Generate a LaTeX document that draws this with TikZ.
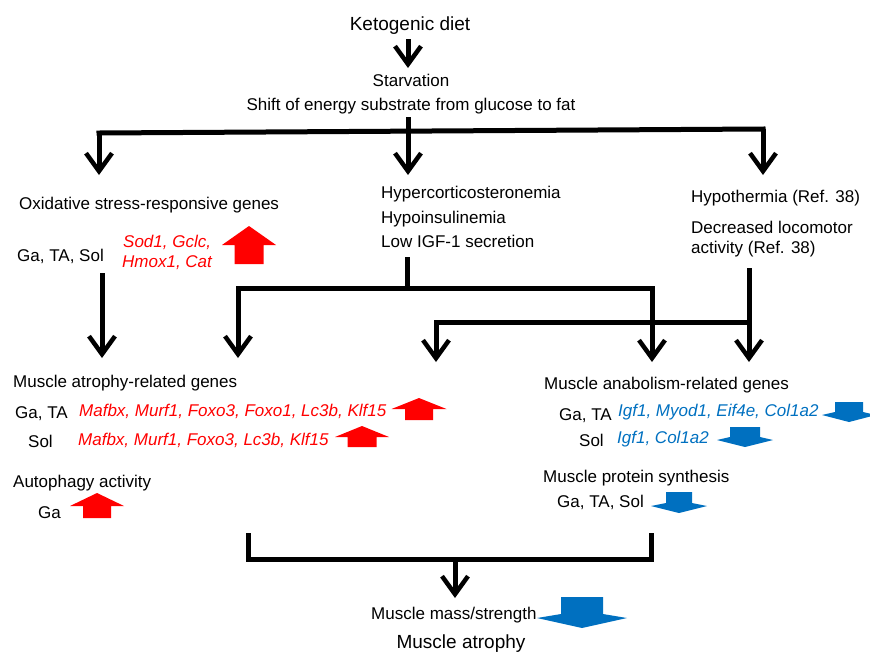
\documentclass[tikz,border=0pt]{standalone}
\usepackage{fontspec}
\setmainfont{Liberation Sans}
\usetikzlibrary{arrows.meta}
\definecolor{mred}{HTML}{FF0000}
\definecolor{mblue}{HTML}{0070C0}
% block arrow: color, cx, tip y, wing-tip y, wing y, end y, half wing, half shaft
\newcommand\blockarr[8]{%
  \fill[#1] (#2,#3) -- (#2+#7,#4) -- (#2+#8,#5) -- (#2+#8,#6) -- (#2-#8,#6)
    -- (#2-#8,#5) -- (#2-#7,#4) -- cycle;}
\tikzset{
  txt/.style={anchor=base west, inner sep=0pt, font=\fontsize{17}{20}\selectfont},
  ctxt/.style={anchor=base, inner sep=0pt, font=\fontsize{17}{20}\selectfont},
  big/.style={anchor=base, inner sep=0pt, font=\fontsize{19}{22}\selectfont},
  redg/.style={txt, text=mred, font=\fontsize{17}{20}\selectfont\itshape},
  blueg/.style={txt, text=mblue, font=\fontsize{17}{20}\selectfont\itshape},
  bar/.style={line width=5pt, line cap=rect},
  flow/.style={line width=5pt, -{Straight Barb[length=18pt,width=26pt,line width=4.5pt]}},
}
\begin{document}
\begin{tikzpicture}[x=1pt,y=-1pt]
\useasboundingbox (0,0) rectangle (870,654);
% texts
\node[big] (keto) at (410,30) {Ketogenic diet};
\node[ctxt] (starv) at (411,86) {Starvation};
\node[ctxt] (shift) at (411,110) {Shift of energy substrate from glucose to fat};
\node[txt] (oxi) at (19,209) {Oxidative stress-responsive genes};
\node[txt] (oxiga) at (17,261) {Ga, TA, Sol};
\node[redg] (sod) at (123,247) {Sod1, Gclc,};
\node[redg] (hmox) at (122,267) {Hmox1, Cat};
\node[txt] (hyper) at (381,198) {Hypercorticosteronemia};
\node[txt] (hypoi) at (381,223) {Hypoinsulinemia};
\node[txt] (igf) at (381,247) {Low IGF-1 secretion};
\node[txt] (hypot) at (691,202) {Hypothermia (Ref. 38)};
\node[txt] (decr) at (691,233) {Decreased locomotor};
\node[txt] (activ) at (691,253) {activity (Ref. 38)};
\node[txt] (atro) at (13,387) {Muscle atrophy-related genes};
\node[txt] (atga) at (15,418) {Ga, TA};
\node[redg] (atgag) at (79,416) {Mafbx, Murf1, Foxo3, Foxo1, Lc3b, Klf15};
\node[txt] (atsol) at (28,447) {Sol};
\node[redg] (atsolg) at (78,445) {Mafbx, Murf1, Foxo3, Lc3b, Klf15};
\node[txt] (auto) at (13,487) {Autophagy activity};
\node[txt] (autoga) at (38,518) {Ga};
\node[txt] (ana) at (544,389) {Muscle anabolism-related genes};
\node[txt] (anaga) at (559,420) {Ga, TA};
\node[blueg] (anagag) at (618,416) {Igf1, Myod1, Eif4e, Col1a2};
\node[txt] (anasol) at (579,446) {Sol};
\node[blueg] (anasolg) at (617,443) {Igf1, Col1a2};
\node[txt] (prot) at (543,482) {Muscle protein synthesis};
\node[txt] (protga) at (557,507) {Ga, TA, Sol};
\node[txt] (mass) at (371,619) {Muscle mass/strength};
\node[big] (atrophy) at (461,648) {Muscle atrophy};
% block arrows
\blockarr{mred}{249}{226}{245}{245}{264}{27}{14.5}
\blockarr{mred}{419}{398}{409}{409}{420}{27.5}{14}
\blockarr{mred}{362}{426}{437}{437}{447}{27}{14.5}
\blockarr{mred}{97}{493}{506}{506}{518}{27}{14}
\blockarr{mblue}{849}{422}{415}{412}{402}{27}{14}
\blockarr{mblue}{745}{447}{440}{437}{427}{28}{15}
\blockarr{mblue}{679}{513}{506}{503}{492}{28}{13}
\blockarr{mblue}{582}{628}{618}{614}{597}{45}{21}
% connectors
\coordinate (k1) at (408,39);
\coordinate (k2) at (408,68);
\draw[flow] (k1) -- (k2);
\coordinate (s1) at (408,117);
\coordinate (jl) at (99,133);
\coordinate (jr) at (763,129);
\coordinate (el) at (99,175);
\coordinate (ec) at (408,175);
\coordinate (er) at (763,175);
\draw[bar] (jl) -- (jr);
\draw[flow] (s1) -- (ec);
\draw[flow] (jl) -- (el);
\draw[flow] (jr) -- (er);
\coordinate (o1) at (102,273);
\coordinate (o2) at (102,358);
\draw[flow] (o1) -- (o2);
\coordinate (g1) at (407,259);
\coordinate (g2) at (407,288);
\coordinate (gl) at (238,288);
\coordinate (gr) at (652,288);
\coordinate (gle) at (238,358);
\coordinate (gre) at (652,362);
\draw[bar] (g1) -- (g2);
\draw[bar] (gl) -- (gr);
\draw[flow] (gl) -- (gle);
\draw[flow] (gr) -- (gre);
\coordinate (h1) at (749,268);
\coordinate (hl) at (436,322);
\coordinate (hr) at (749,322);
\coordinate (he) at (749,362);
\coordinate (hle) at (436,362);
\draw[bar] (hl) -- (hr);
\draw[flow] (h1) -- (he);
\draw[flow] (hl) -- (hle);
\coordinate (b1) at (248,533);
\coordinate (b2) at (248,559);
\coordinate (b3) at (651,559);
\coordinate (b4) at (651,533);
\coordinate (bm) at (455,559);
\coordinate (be) at (455,598);
\draw[line width=5pt] (b1) -- (b2) -- (b3) -- (b4);
\draw[flow] (bm) -- (be);
\end{tikzpicture}
\end{document}
